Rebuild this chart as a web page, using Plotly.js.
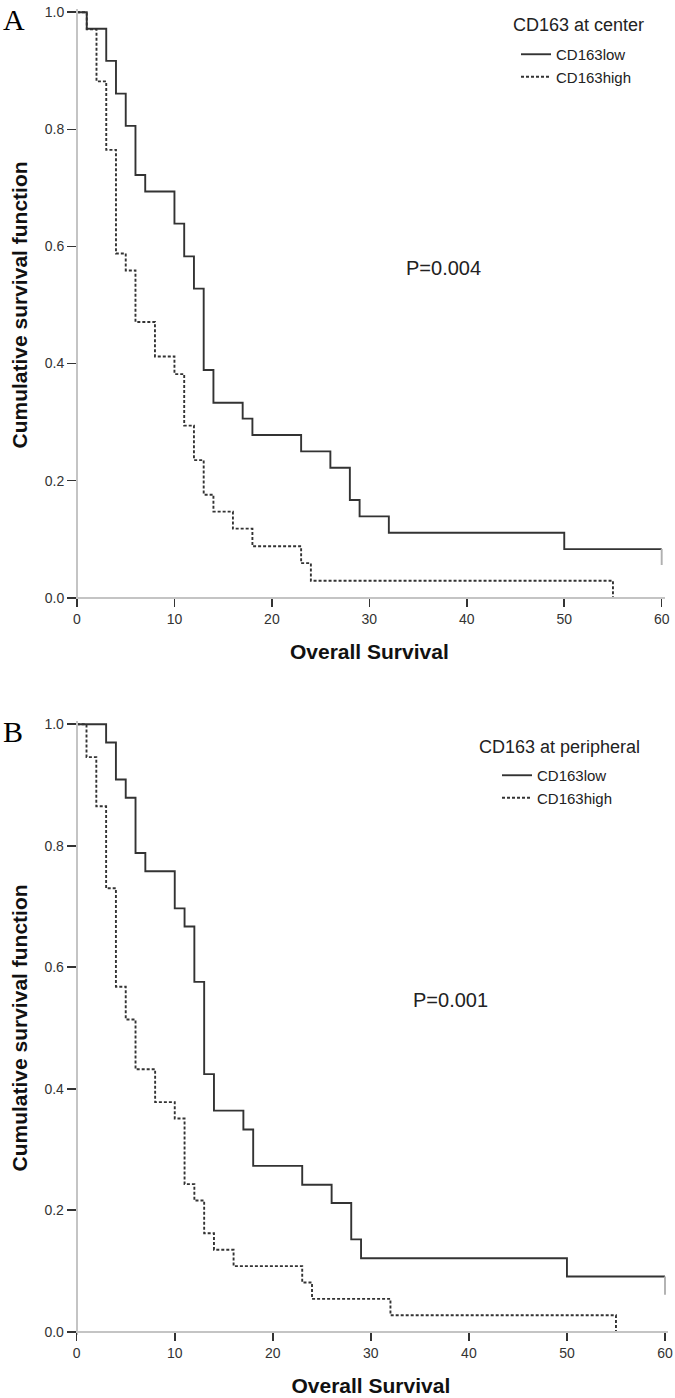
<!DOCTYPE html>
<html>
<head>
<meta charset="utf-8">
<script src="https://cdn.plot.ly/plotly-3.0.1.min.js"></script>
<style>
  html, body { margin: 0; padding: 0; background: #ffffff; }
  #chart { width: 675px; height: 1398px; }
</style>
</head>
<body>
<div id="chart"></div>
<script>
// ---------- Panel A: CD163 at center ----------
const aLowTime  = [0, 1, 3, 4, 5, 6, 7, 10, 11, 12, 13, 14, 17, 18, 23, 26, 28, 29, 32, 50, 60];
const aLowSurv  = [1.0, 0.972, 0.917, 0.861, 0.806, 0.722, 0.694, 0.639, 0.583, 0.528, 0.389, 0.333, 0.306, 0.278, 0.250, 0.222, 0.167, 0.139, 0.111, 0.083, 0.083];
const aLowCensTime = [60, 60];
const aLowCensSurv = [0.083, 0.056];
const aHighTime = [0, 1, 2, 3, 4, 5, 6, 8, 10, 11, 12, 13, 14, 16, 18, 23, 24, 55];
const aHighSurv = [1.0, 0.971, 0.882, 0.765, 0.588, 0.559, 0.471, 0.412, 0.382, 0.294, 0.235, 0.176, 0.147, 0.118, 0.088, 0.059, 0.029, 0.0];

// ---------- Panel B: CD163 at peripheral ----------
const bLowTime  = [0, 3, 4, 5, 6, 7, 10, 11, 12, 13, 14, 17, 18, 23, 26, 28, 29, 50, 60];
const bLowSurv  = [1.0, 0.970, 0.909, 0.879, 0.788, 0.758, 0.697, 0.667, 0.576, 0.424, 0.364, 0.333, 0.273, 0.242, 0.212, 0.152, 0.121, 0.091, 0.091];
const bLowCensTime = [60, 60];
const bLowCensSurv = [0.091, 0.061];
const bHighTime = [0, 1, 2, 3, 4, 5, 6, 8, 10, 11, 12, 13, 14, 16, 23, 24, 32, 55];
const bHighSurv = [1.0, 0.946, 0.865, 0.730, 0.568, 0.514, 0.432, 0.378, 0.351, 0.243, 0.216, 0.162, 0.135, 0.108, 0.081, 0.054, 0.027, 0.0];

// ---------- Labels ----------
const seriesNames = ['CD163low', 'CD163high'];
const legendTitles = ['CD163 at center', 'CD163 at peripheral'];
const pValues = ['P=0.004', 'P=0.001'];
const panelLetters = ['A', 'B'];
const xTickVals = [0, 10, 20, 30, 40, 50, 60];
const yTickVals = [0, 0.2, 0.4, 0.6, 0.8, 1.0];
const xTitle = 'Overall Survival';
const yTitle = 'Cumulative survival function';

const SANS = 'Arial, "Liberation Sans", sans-serif';
const SERIF = '"Liberation Serif", "Times New Roman", serif';
const lineCol = '#333333';

function lowTrace(x, y, xa, ya, lg) {
  return { x: x, y: y, xaxis: xa, yaxis: ya, type: 'scatter', mode: 'lines',
    line: { shape: 'hv', color: lineCol, width: 1.9 }, name: seriesNames[0],
    legend: lg, showlegend: true, hoverinfo: 'skip' };
}
function highTrace(x, y, xa, ya, lg) {
  return { x: x, y: y, xaxis: xa, yaxis: ya, type: 'scatter', mode: 'lines',
    line: { shape: 'hv', color: lineCol, width: 1.9, dash: '3px,2px' }, name: seriesNames[1],
    legend: lg, showlegend: true, hoverinfo: 'skip' };
}
function censTrace(x, y, xa, ya) {
  return { x: x, y: y, xaxis: xa, yaxis: ya, type: 'scatter', mode: 'lines',
    line: { color: '#b0b0b0', width: 1.9 }, showlegend: false, hoverinfo: 'skip' };
}

const data = [
  lowTrace(aLowTime, aLowSurv, 'x', 'y', 'legend'),
  highTrace(aHighTime, aHighSurv, 'x', 'y', 'legend'),
  censTrace(aLowCensTime, aLowCensSurv, 'x', 'y'),
  lowTrace(bLowTime, bLowSurv, 'x2', 'y2', 'legend2'),
  highTrace(bHighTime, bHighSurv, 'x2', 'y2', 'legend2'),
  censTrace(bLowCensTime, bLowCensSurv, 'x2', 'y2')
];

function xAxis(domain, pos) {
  return {
    domain: domain, range: [-0.3, 60.3], anchor: 'free', position: pos,
    showline: true, linecolor: '#c4c4c4', linewidth: 2,
    ticks: 'outside', ticklen: 8, tickwidth: 1.6, tickcolor: '#333',
    tickmode: 'array', tickvals: xTickVals,
    tickfont: { family: SANS, size: 14, color: '#333' },
    showgrid: false, zeroline: false, fixedrange: true,
    title: { text: '<b>' + xTitle + '</b>', font: { family: SANS, size: 21, color: '#111' }, standoff: 18 }
  };
}
function yAxis(domain, pos) {
  return {
    domain: domain, range: [-0.005, 1.005], anchor: 'free', position: pos,
    showline: true, linecolor: '#c4c4c4', linewidth: 2,
    ticks: 'outside', ticklen: 9, tickwidth: 1.6, tickcolor: '#333',
    tickmode: 'array', tickvals: yTickVals, tickformat: '.1f',
    tickfont: { family: SANS, size: 14, color: '#333' },
    showgrid: false, zeroline: false, fixedrange: true,
    title: { text: '<b>' + yTitle + '</b>', font: { family: SANS, size: 21, color: '#111' }, standoff: 10 }
  };
}

function legendCfg(xPx, topPx) {
  return {
    x: xPx / 675, y: 1 - topPx / 1398, xanchor: 'left', yanchor: 'top',
    bgcolor: 'rgba(0,0,0,0)', borderwidth: 0, tracegroupgap: 0,
    font: { family: SANS, size: 15, color: '#222' }
  };
}

const layout = {
  width: 675, height: 1398,
  margin: { l: 0, r: 0, t: 0, b: 0 },
  paper_bgcolor: '#ffffff', plot_bgcolor: '#ffffff',
  showlegend: true,
  xaxis:  xAxis([0.10975, 0.98462], 0.57246),
  yaxis:  yAxis([0.57036, 0.99330], 0.11407),
  xaxis2: xAxis([0.10927, 0.98954], 0.04742),
  yaxis2: yAxis([0.04525, 0.48408], 0.11363),
  legend:  legendCfg(516, 38),
  legend2: legendCfg(497, 759),
  annotations: [
    { xref: 'paper', yref: 'paper', x: 511 / 675, y: 1 - 25 / 1398, text: legendTitles[0], showarrow: false,
      xanchor: 'left', yanchor: 'middle', font: { family: SANS, size: 18, color: '#222' } },
    { xref: 'paper', yref: 'paper', x: 477 / 675, y: 1 - 747 / 1398, text: legendTitles[1], showarrow: false,
      xanchor: 'left', yanchor: 'middle', font: { family: SANS, size: 18, color: '#222' } },
    { xref: 'x', yref: 'y', x: 37.6, y: 0.563, text: pValues[0], showarrow: false,
      xanchor: 'center', yanchor: 'middle', font: { family: SANS, size: 20, color: '#222' } },
    { xref: 'x2', yref: 'y2', x: 38.1, y: 0.546, text: pValues[1], showarrow: false,
      xanchor: 'center', yanchor: 'middle', font: { family: SANS, size: 20, color: '#222' } },
    { xref: 'paper', yref: 'paper', x: 14 / 675, y: 1 - 1 / 1398, text: panelLetters[0], showarrow: false,
      xanchor: 'center', yanchor: 'top', font: { family: SERIF, size: 30, color: '#000' } },
    { xref: 'paper', yref: 'paper', x: 13 / 675, y: 1 - 731 / 1398, text: panelLetters[1], showarrow: false,
      xanchor: 'center', yanchor: 'middle', font: { family: SERIF, size: 30, color: '#000' } }
  ]
};

Plotly.newPlot('chart', data, layout, { staticPlot: true, displayModeBar: false });
</script>
</body>
</html>
